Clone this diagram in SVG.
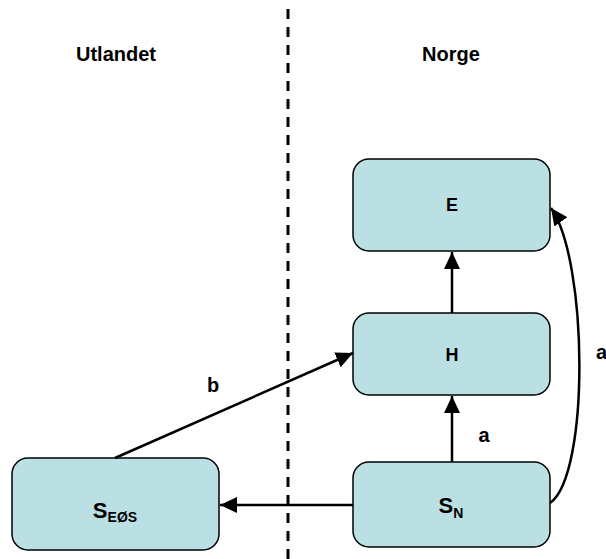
<svg xmlns="http://www.w3.org/2000/svg" width="606" height="559" viewBox="0 0 606 559">
<style>
.box{fill:#BBE0E3;stroke:#000;stroke-width:1.5}
.t{font-family:"Liberation Sans",Arial,sans-serif;font-weight:bold;fill:#000}
.c{fill:none;stroke:#000;stroke-width:2.5}
</style>
<defs>
<marker id="ah" markerUnits="userSpaceOnUse" markerWidth="18" markerHeight="16" refX="17" refY="8" orient="auto">
<path d="M0,0 L17,8 L0,16 Z" fill="#000"/>
</marker>
</defs>
<rect width="606" height="559" fill="#fff"/>
<line x1="288" y1="9" x2="288" y2="559" stroke="#000" stroke-width="3" stroke-dasharray="10,8"/>
<text class="t" x="116" y="61" font-size="20" text-anchor="middle">Utlandet</text>
<text class="t" x="451" y="61" font-size="20" text-anchor="middle">Norge</text>
<g id="E">
<rect class="box" x="353" y="159" width="197" height="92" rx="16"/>
<text class="t" x="452" y="211" font-size="18" text-anchor="middle">E</text>
</g>
<g id="H">
<rect class="box" x="353" y="313" width="197" height="82" rx="16"/>
<text class="t" x="452" y="361" font-size="18" text-anchor="middle">H</text>
</g>
<g id="SN">
<rect class="box" x="353" y="462" width="197" height="85" rx="16"/>
<text class="t" x="451" y="513" font-size="22" text-anchor="middle">S<tspan font-size="14" dy="5">N</tspan></text>
</g>
<g id="SEOS">
<rect class="box" x="12" y="458" width="207" height="92" rx="16"/>
<text class="t" x="115" y="518" font-size="22" text-anchor="middle">S<tspan font-size="14" dy="4">EØS</tspan></text>
</g>
<g id="connectors">
<line class="c" x1="353" y1="505" x2="220" y2="505" marker-end="url(#ah)"/>
<line class="c" x1="452" y1="462" x2="452" y2="396" marker-end="url(#ah)"/>
<line class="c" x1="452" y1="313" x2="452" y2="252" marker-end="url(#ah)"/>
<line class="c" x1="115" y1="458" x2="353" y2="353" marker-end="url(#ah)"/>
<path class="c" d="M550,503 C590,475 588,260 551,208" marker-end="url(#ah)"/>
<text class="t" x="484" y="442" font-size="20" text-anchor="middle">a</text>
<text class="t" x="213" y="392" font-size="20" text-anchor="middle">b</text>
<text class="t" x="596" y="359" font-size="20">a</text>
</g>
</svg>
